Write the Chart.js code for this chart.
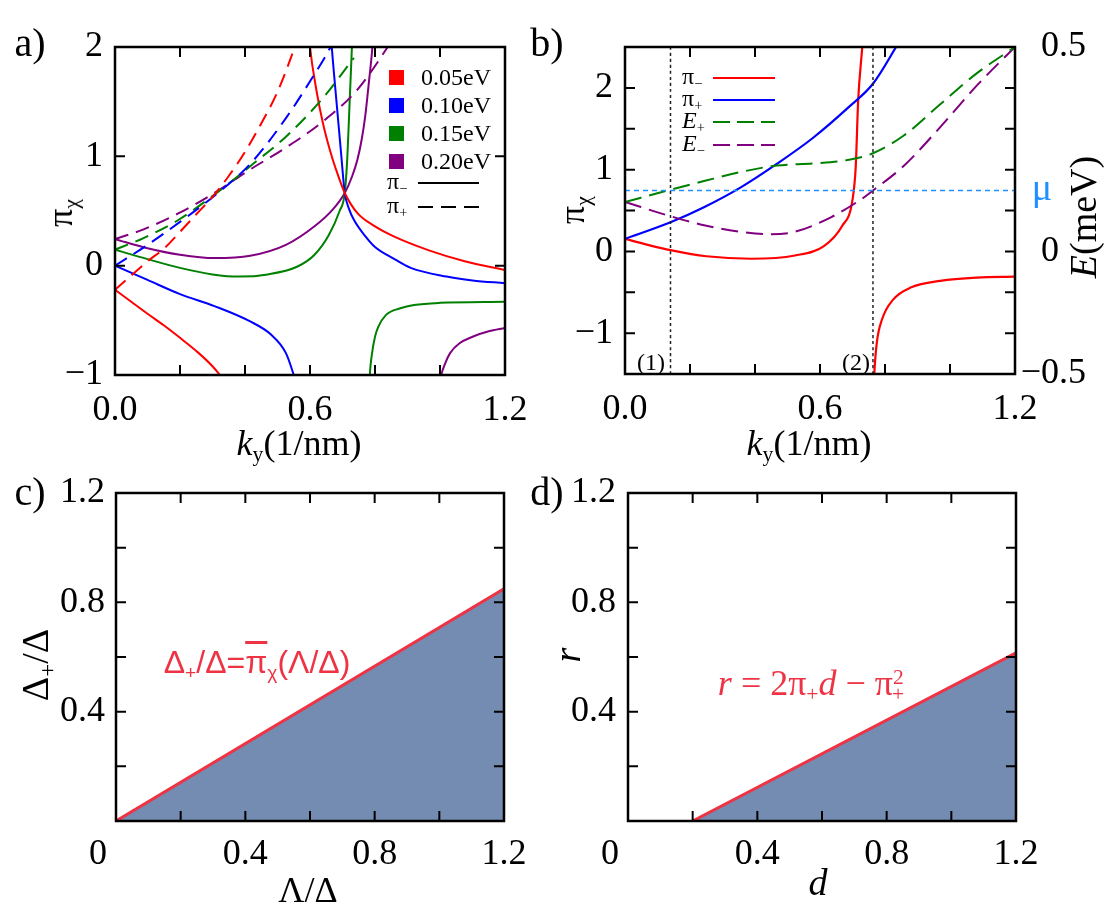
<!DOCTYPE html>
<html>
<head>
<meta charset="utf-8">
<script src="https://cdn.jsdelivr.net/npm/chart.js"></script>
<style>
  html, body { margin:0; padding:0; background:#fff; }
  body { width:1111px; height:916px; position:relative; overflow:hidden; font-family:'Liberation Serif','Times New Roman',serif; color:#000; }
  canvas { position:absolute; }
  .t { position:absolute; white-space:nowrap; line-height:1; transform:translate(-50%,-50%); }
  .rot { transform:translate(-50%,-50%) rotate(-90deg); }
  .l { position:absolute; white-space:nowrap; line-height:1; transform:translate(0,-50%); }
  .s { font-size:0.6em; position:relative; top:0.3em; }
  .p { font-size:0.6em; position:relative; top:-0.5em; }
  .sq { position:absolute; width:15px; height:15px; }
  svg { position:absolute; overflow:visible; }
</style>
</head>
<body>
<canvas id="ca" width="555" height="458" style="left:0;top:0"></canvas>
<canvas id="cb" width="556" height="458" style="left:555px;top:0"></canvas>
<canvas id="cc" width="555" height="458" style="left:0;top:458px"></canvas>
<canvas id="cd" width="556" height="458" style="left:555px;top:458px"></canvas>

<!-- panel letters -->
<div class="t" style="left:30px;top:43px;font-size:40px">a)</div>
<div class="t" style="left:547px;top:43px;font-size:40px">b)</div>
<div class="t" style="left:30px;top:492px;font-size:40px">c)</div>
<div class="t" style="left:547px;top:492px;font-size:40px">d)</div>

<!-- panel a titles & legend -->
<div class="t rot" style="left:60px;top:213px;font-size:36px">π<span class="s">χ</span></div>
<div class="t" style="left:299px;top:443px;font-size:36px"><i>k</i><span class="s">y</span>(1/nm)</div>
<div id="legA"></div>

<!-- panel b titles & legend -->
<div class="t rot" style="left:572px;top:210px;font-size:36px">π<span class="s">χ</span></div>
<div class="t rot" style="left:1083px;top:217px;font-size:38px"><i>E</i>(meV)</div>
<div class="t" style="left:809px;top:443px;font-size:36px"><i>k</i><span class="s">y</span>(1/nm)</div>
<div class="t" style="left:1042px;top:187px;font-size:38px;color:#1E90FF">μ</div>
<div class="t" style="left:651px;top:362px;font-size:24px">(1)</div>
<div class="t" style="left:856px;top:362px;font-size:24px">(2)</div>
<div id="legB"></div>

<!-- panel c titles -->
<div class="t rot" style="left:35px;top:665px;font-size:38px">Δ<span class="s">+</span>/Δ</div>
<div class="t" style="left:308px;top:890px;font-size:36px">Λ/Δ</div>
<div class="t" style="left:257px;top:662px;font-size:32px;color:#EE3344;font-family:'Liberation Sans',Arial,sans-serif">Δ<span class="s">+</span>/Δ=<span style="text-decoration:overline">π</span><span class="s">χ</span>(Λ/Δ)</div>

<!-- panel d titles -->
<div class="t rot" style="left:567px;top:655px;font-size:38px"><i>r</i></div>
<div class="t" style="left:818px;top:882px;font-size:38px"><i>d</i></div>
<div class="t" style="left:811px;top:683px;font-size:36px;color:#EE3344"><i>r</i> = 2π<span class="s">+</span><i>d</i> − π<span class="p">2</span><span class="s" style="margin-left:-0.55em">+</span></div>

<script>
// ===================== DATA =====================
// Panel a : k_y (1/nm) vs pi_chi ; four energies, pi_- (solid, two branches) and pi_+ (dashed)
const aEnergies = ['0.05eV', '0.10eV', '0.15eV', '0.20eV'];
const aColors = ['#FF0000', '#0000FF', '#008000', '#800080'];
const aXTickVals = [0, 0.6, 1.2];
const aXTickText = ['0.0', '0.6', '1.2'];
const aYTickVals = [-1, 0, 1, 2];
const aYTickText = ['−1', '0', '1', '2'];

const aMinus005a = [[0,-0.22],[0.05,-0.33],[0.1,-0.44],[0.15,-0.545],[0.2,-0.66],[0.25,-0.78],[0.3,-0.92],[0.33,-1.03],[0.35,-1.12]];
const aMinus005b = [[0.592,2.3],[0.6,2.0],[0.62,1.6],[0.64,1.3],[0.66,1.07],[0.68,0.88],[0.707,0.665],[0.746,0.48],[0.8,0.36],[0.856,0.27],[0.966,0.14],[1.076,0.04],[1.2,-0.04]];
const aMinus010a = [[0,0.0],[0.1,-0.13],[0.2,-0.26],[0.306,-0.37],[0.416,-0.51],[0.48,-0.63],[0.526,-0.8],[0.55,-1.0],[0.565,-1.15]];
const aMinus010b = [[0.66,2.3],[0.667,2.0],[0.68,1.55],[0.695,1.05],[0.707,0.665],[0.72,0.52],[0.735,0.42],[0.77,0.27],[0.8,0.17],[0.86,0.06],[0.91,-0.02],[1.02,-0.1],[1.1,-0.135],[1.2,-0.16]];
const aMinus015a = [[0,0.146],[0.1,0.06],[0.2,-0.02],[0.3,-0.08],[0.383,-0.1],[0.47,-0.08],[0.56,-0.01],[0.614,0.1],[0.658,0.28],[0.691,0.5],[0.707,0.665],[0.715,1.0],[0.722,1.5],[0.729,2.0],[0.733,2.3]];
const aMinus015b = [[0.78,-1.3],[0.784,-1.0],[0.79,-0.82],[0.8,-0.65],[0.81,-0.56],[0.834,-0.45],[0.878,-0.39],[0.92,-0.36],[1.0,-0.34],[1.2,-0.33]];
const aMinus020a = [[0,0.243],[0.1,0.16],[0.2,0.1],[0.306,0.069],[0.416,0.09],[0.526,0.19],[0.614,0.36],[0.669,0.51],[0.707,0.665],[0.73,0.82],[0.746,0.97],[0.76,1.17],[0.77,1.37],[0.782,1.7],[0.792,2.0],[0.798,2.3]];
const aMinus020b = [[0.996,-1.15],[1.004,-1.0],[1.015,-0.9],[1.031,-0.8],[1.06,-0.71],[1.1,-0.65],[1.15,-0.6],[1.2,-0.57]];
const aPlus005 = [[0,-0.22],[0.05,-0.09],[0.1,0.04],[0.152,0.16],[0.2,0.31],[0.25,0.47],[0.3,0.63],[0.35,0.82],[0.4,1.04],[0.45,1.3],[0.5,1.59],[0.553,2.0],[0.58,2.25]];
const aPlus010 = [[0,0.0],[0.1,0.19],[0.2,0.4],[0.306,0.64],[0.416,0.93],[0.526,1.35],[0.603,1.70],[0.663,2.0],[0.7,2.25]];
const aPlus015 = [[0,0.146],[0.086,0.25],[0.196,0.42],[0.306,0.65],[0.416,0.91],[0.526,1.18],[0.636,1.52],[0.735,1.9]];
const aPlus020 = [[0,0.243],[0.086,0.33],[0.196,0.48],[0.306,0.665],[0.416,0.88],[0.526,1.08],[0.636,1.31],[0.746,1.61],[0.839,2.0],[0.87,2.15]];

// Panel b : pi_-, pi_+ (solid), E_+, E_- (dashed), chemical potential mu, marked k-points
const bXTickVals = [0, 0.6, 1.2];
const bXTickText = ['0.0', '0.6', '1.2'];
const bYTickVals = [-1, 0, 1, 2];
const bYTickText = ['−1', '0', '1', '2'];
const bRightTickVals = [2.5, 0, -1.5];
const bRightTickText = ['0.5', '0   ', '−0.5'];
const bPiMinusA = [[0,0.153],[0.07,0.08],[0.14,0.015],[0.25,-0.06],[0.388,-0.09],[0.523,-0.05],[0.612,0.064],[0.668,0.31],[0.7,0.63],[0.71,1.04],[0.7175,1.85],[0.73,2.5],[0.735,2.8]];
const bPiMinusB = [[0.764,-1.8],[0.767,-1.5],[0.775,-1.11],[0.791,-0.83],[0.825,-0.59],[0.881,-0.44],[0.97,-0.36],[1.083,-0.32],[1.2,-0.31]];
const bPiPlus = [[0,0.153],[0.14,0.356],[0.243,0.54],[0.355,0.78],[0.467,1.07],[0.579,1.39],[0.69,1.77],[0.763,2.05],[0.834,2.5],[0.86,2.68]];
const bEPlus = [[0,0.604],[0.14,0.754],[0.243,0.86],[0.355,0.97],[0.467,1.05],[0.579,1.075],[0.69,1.12],[0.763,1.2],[0.859,1.42],[0.97,1.8],[1.083,2.18],[1.2,2.5]];
const bEMinus = [[0,0.604],[0.14,0.43],[0.243,0.32],[0.355,0.24],[0.444,0.21],[0.523,0.24],[0.635,0.42],[0.724,0.63],[0.763,0.745],[0.859,1.05],[0.97,1.52],[1.083,2.03],[1.2,2.5]];
const bMu = 0.745;
const bMarkedK = [0.14, 0.763];
const bLegend = ['π<span class="s">−</span>', 'π<span class="s">+</span>', '<i>E</i><span class="s">+</span>', '<i>E</i><span class="s">−</span>'];

// Panel c : phase boundary Delta_+/Delta vs Lambda/Delta
const cTickVals = [0, 0.4, 0.8, 1.2];
const cXTickText = ['0    ', '0.4', '0.8', '1.2'];
const cYTickText = ['', '0.4', '0.8', '1.2'];
const cBoundary = [[0, 0], [1.2, 0.85]];

// Panel d : r vs d
const dBoundary = [[0.2, 0], [1.2, 0.615]];

// ===================== HELPERS =====================
const FONT = "'Liberation Serif','Times New Roman',serif";
const RED_LINE = '#EE3344';
const FILL = 'rgb(116,139,178)';

function labelFor(vals, texts) {
  return function (v) {
    for (let i = 0; i < vals.length; i++) if (Math.abs(v - vals[i]) < 1e-6) return texts[i];
    return '';
  };
}
function pts(arr) { return arr.map(p => ({ x: p[0], y: p[1] })); }
function ser(arr, color, dash, width) {
  return { data: pts(arr), borderColor: color, borderWidth: width || 2, borderDash: dash || [],
    pointRadius: 0, showLine: true, fill: false, cubicInterpolationMode: 'monotone', capBezierPoints: false };
}
function xAxis(min, max, step, vals, texts, h, pad) {
  return { type: 'linear', position: 'bottom', min, max,
    grid: { display: false, drawTicks: false }, border: { display: false },
    ticks: { stepSize: step, autoSkip: false, maxRotation: 0, minRotation: 0, padding: pad, color: '#000',
      font: { family: FONT, size: 36 }, callback: labelFor(vals, texts) },
    afterFit(s) { s.height = h; s.paddingLeft = 0; s.paddingRight = 0; } };
}
function yAxis(min, max, step, vals, texts, w, pos, pad, align) {
  return { type: 'linear', position: pos || 'left', min, max,
    grid: { display: false, drawTicks: false }, border: { display: false },
    ticks: { stepSize: step, autoSkip: false, padding: pad, color: '#000', crossAlign: align || 'near',
      font: { family: FONT, size: 36 }, callback: labelFor(vals, texts) },
    afterFit(s) { s.width = w; s.paddingTop = 0; s.paddingBottom = 0; } };
}
const frameTicks = {
  id: 'frameTicks',
  afterDraw(chart) {
    const { ctx, chartArea: ca, scales } = chart;
    const L = 10;
    ctx.save();
    ctx.strokeStyle = '#000';
    ctx.lineWidth = 2;
    ctx.beginPath();
    scales.x.ticks.forEach(t => {
      const p = scales.x.getPixelForValue(t.value);
      if (p <= ca.left + 1 || p >= ca.right - 1) return;
      ctx.moveTo(p, ca.bottom); ctx.lineTo(p, ca.bottom - L);
      ctx.moveTo(p, ca.top); ctx.lineTo(p, ca.top + L);
    });
    scales.y.ticks.forEach(t => {
      const p = scales.y.getPixelForValue(t.value);
      if (p <= ca.top + 1 || p >= ca.bottom - 1) return;
      ctx.moveTo(ca.left, p); ctx.lineTo(ca.left + L, p);
      ctx.moveTo(ca.right, p); ctx.lineTo(ca.right - L, p);
    });
    ctx.stroke();
    ctx.lineWidth = 2.5;
    ctx.strokeRect(ca.left, ca.top, ca.right - ca.left, ca.bottom - ca.top);
    ctx.restore();
  }
};
function baseOptions(padding, scales) {
  return { responsive: false, animation: false, events: [],
    layout: { padding },
    plugins: { legend: { display: false }, tooltip: { enabled: false } },
    scales };
}

// ===================== PANEL A =====================
new Chart(document.getElementById('ca'), {
  type: 'scatter',
  data: { datasets: [
    ser(aPlus005, aColors[0], [14, 8]), ser(aPlus010, aColors[1], [14, 8]),
    ser(aPlus015, aColors[2], [14, 8]), ser(aPlus020, aColors[3], [14, 8]),
    ser(aMinus005a, aColors[0]), ser(aMinus005b, aColors[0]),
    ser(aMinus010a, aColors[1]), ser(aMinus010b, aColors[1]),
    ser(aMinus015a, aColors[2]), ser(aMinus015b, aColors[2]),
    ser(aMinus020a, aColors[3]), ser(aMinus020b, aColors[3])
  ] },
  options: baseOptions({ left: 0, right: 50, top: 47, bottom: 0 }, {
    x: xAxis(0, 1.2, 0.2, aXTickVals, aXTickText, 83, 14),
    y: yAxis(-1, 2, 1, aYTickVals, aYTickText, 115, 'left', 12)
  }),
  plugins: [frameTicks]
});

// ===================== PANEL B =====================
new Chart(document.getElementById('cb'), {
  type: 'scatter',
  data: { datasets: [
    ser([[bMarkedK[0], -1.5], [bMarkedK[0], 2.5]], '#222', [3, 3], 1.5),
    ser([[bMarkedK[1], -1.5], [bMarkedK[1], 2.5]], '#222', [3, 3], 1.5),
    ser([[0, bMu], [1.2, bMu]], '#1E90FF', [5, 4], 1.5),
    ser(bEPlus, '#008000', [17, 8], 2),
    ser(bEMinus, '#800080', [17, 8], 2),
    ser(bPiPlus, '#0000FF', [], 2.2),
    ser(bPiMinusA, '#FF0000', [], 2.2),
    ser(bPiMinusB, '#FF0000', [], 2.2)
  ] },
  options: baseOptions({ left: 0, right: 25, top: 47, bottom: 0 }, {
    x: xAxis(0, 1.2, 0.2, bXTickVals, bXTickText, 84, 14),
    y: yAxis(-1.5, 2.5, 0.5, bYTickVals, bYTickText, 70, 'left', 12),
    y2: yAxis(-1.5, 2.5, 0.5, bRightTickVals, bRightTickText, 71, 'right', 0, 'far')
  }),
  plugins: [frameTicks]
});

// ===================== PANEL C =====================
new Chart(document.getElementById('cc'), {
  type: 'scatter',
  data: { datasets: [
    Object.assign(ser(cBoundary, RED_LINE, [], 3), { fill: 'origin', backgroundColor: FILL, cubicInterpolationMode: 'default', tension: 0 })
  ] },
  options: baseOptions({ left: 0, right: 51, top: 35, bottom: 0 }, {
    x: xAxis(0, 1.2, 0.2, cTickVals, cXTickText, 95, 12),
    y: yAxis(0, 1.2, 0.2, cTickVals, cYTickText, 116, 'left', 11)
  }),
  plugins: [frameTicks]
});

// ===================== PANEL D =====================
new Chart(document.getElementById('cd'), {
  type: 'scatter',
  data: { datasets: [
    Object.assign(ser(dBoundary, RED_LINE, [], 3), { fill: 'origin', backgroundColor: FILL, cubicInterpolationMode: 'default', tension: 0 })
  ] },
  options: baseOptions({ left: 0, right: 95, top: 35, bottom: 0 }, {
    x: xAxis(0, 1.2, 0.2, cTickVals, cXTickText, 95, 12),
    y: yAxis(0, 1.2, 0.2, cTickVals, cYTickText, 73, 'left', 12)
  }),
  plugins: [frameTicks]
});

// ===================== LEGENDS (HTML) =====================
(function () {
  const la = document.getElementById('legA');
  let h = '';
  const ys = [77, 105, 133, 161];
  aEnergies.forEach((lab, i) => {
    h += `<div class="sq" style="left:389px;top:${ys[i] - 7}px;background:${aColors[i]}"></div>`;
    h += `<div class="l" style="left:421px;top:${ys[i]}px;font-size:24px">${lab}</div>`;
  });
  h += `<div class="l" style="left:387px;top:181px;font-size:24px">π<span class="s">−</span></div>`;
  h += `<svg style="left:418px;top:176px" width="62" height="14"><line x1="0" y1="7" x2="61" y2="7" stroke="#000" stroke-width="2"/></svg>`;
  h += `<div class="l" style="left:387px;top:205px;font-size:24px">π<span class="s">+</span></div>`;
  h += `<svg style="left:418px;top:200px" width="62" height="14"><line x1="0" y1="7" x2="61" y2="7" stroke="#000" stroke-width="2" stroke-dasharray="15 8"/></svg>`;
  la.innerHTML = h;

  const lb = document.getElementById('legB');
  const bys = [78, 100, 122, 145];
  const bcol = ['#FF0000', '#0000FF', '#008000', '#800080'];
  const bdash = ['', '', '17 7', '17 7'];
  let g = '';
  bLegend.forEach((lab, i) => {
    g += `<div class="l" style="left:682px;top:${bys[i] - 2}px;font-size:24px">${lab}</div>`;
    g += `<svg style="left:713px;top:${bys[i] - 7}px" width="63" height="14"><line x1="0" y1="7" x2="62" y2="7" stroke="${bcol[i]}" stroke-width="2.2" ${bdash[i] ? 'stroke-dasharray="' + bdash[i] + '"' : ''}/></svg>`;
  });
  lb.innerHTML = g;
})();
</script>
</body>
</html>
